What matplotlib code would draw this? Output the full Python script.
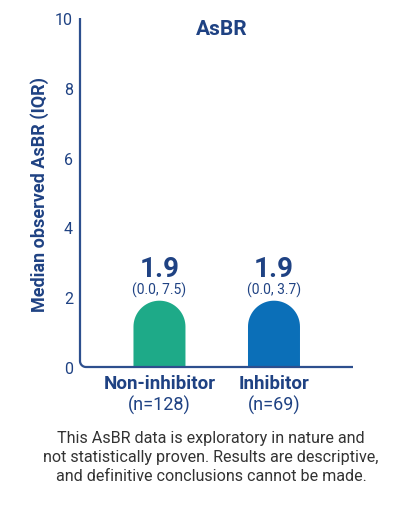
"""
Median observed AsBR bar chart with rounded bar tops, IQR labels and a footnote.
"""
import numpy as np
import matplotlib
matplotlib.use('Agg')
import matplotlib.pyplot as plt
from matplotlib.path import Path
from matplotlib.patches import PathPatch

plt.rcParams['font.family'] = ['Roboto', 'DejaVu Sans']

# --- data ---
categories = ['Non-inhibitor', 'Inhibitor']
n_values = [128, 69]
medians = [1.9, 1.9]
q1_values = [0.0, 0.0]
q3_values = [7.5, 3.7]
y_ticks = [0, 2, 4, 6, 8, 10]
title_text = 'AsBR'
y_label_text = 'Median observed AsBR (IQR)'
footnote_lines = ['This AsBR data is exploratory in nature and',
                  'not statistically proven. Results are descriptive,',
                  'and definitive conclusions cannot be made.']

# --- styles ---
NAVY = '#1f4283'
AXIS_COLOR = '#2d4f8e'
BAR_COLORS = ['#1eaa88', '#0b6fb8']
FOOT_COLOR = '#333333'
BAR_WIDTH = 0.454

W, H = 411, 506
fig = plt.figure(figsize=(W / 100, H / 100), dpi=100)
ax = fig.add_axes([80 / W, 1 - 368 / H, 273 / W, 349 / H])
ax.set_xlim(-0.694, 1.690)
ax.set_ylim(0, 10)
for side in ['top', 'right', 'left', 'bottom']:
    ax.spines[side].set_visible(False)
ax.set_xticks([])
ax.set_yticks(y_ticks)
ax.set_yticklabels([str(t) for t in y_ticks])
ax.tick_params(axis='y', length=0, pad=5, labelsize=11.5, labelcolor=NAVY)

# pixel scale of each data unit, used to keep bar caps circular
px_per_x = 273 / (1.690 + 0.694)
px_per_y = 349 / 10


def rounded_bar(x_center, height, width, color):
    rx = width / 2
    ry = rx * px_per_x / px_per_y
    theta = np.linspace(0, np.pi, 40)
    cap_x = x_center + rx * np.cos(theta)
    cap_y = height - ry + ry * np.sin(theta)
    xs = np.concatenate([[x_center + rx], cap_x, [x_center - rx]])
    ys = np.concatenate([[0], cap_y, [0]])
    verts = np.column_stack([xs, ys])
    patch = PathPatch(Path(verts, closed=False), facecolor=color,
                      edgecolor='none', zorder=2)
    ax.add_patch(patch)


x_positions = list(range(len(categories)))
for i, x in enumerate(x_positions):
    rounded_bar(x, medians[i], BAR_WIDTH, BAR_COLORS[i])
    ax.annotate(f'{medians[i]:.1f}', xy=(x, medians[i]), xytext=(0, 32.5),
                textcoords='offset pixels', ha='center', va='center',
                fontsize=20, fontweight='bold', color=NAVY)
    ax.annotate(f'({q1_values[i]:.1f}, {q3_values[i]:.1f})', xy=(x, medians[i]),
                xytext=(0, 11.5), textcoords='offset pixels', ha='center',
                va='center', fontsize=10, color=NAVY)
    ax.annotate(categories[i], xy=(x, 0), xytext=(0, -16),
                textcoords='offset pixels', ha='center', va='center',
                fontsize=13.5, fontweight='bold', color=NAVY, annotation_clip=False)
    ax.annotate(f'(n={n_values[i]})', xy=(x, 0), xytext=(0, -37),
                textcoords='offset pixels', ha='center', va='center',
                fontsize=13, color=NAVY, annotation_clip=False)

# L-shaped axis line with a rounded corner (axes fraction coords)
r_x = 6 / 273
r_y = 6 / 349
corner = np.linspace(np.pi, 1.5 * np.pi, 12)
frame_x = np.concatenate([[0], r_x + r_x * np.cos(corner), [1]])
frame_y = np.concatenate([[1], r_y + r_y * np.sin(corner), [0]])
ax.plot(frame_x, frame_y, transform=ax.transAxes, color=AXIS_COLOR,
        linewidth=1.6, clip_on=False, zorder=3, solid_capstyle='butt')

# title and axis label
ax.text((221.7 - 80) / 273, 1 - (29.5 - 19) / 349, title_text,
        transform=ax.transAxes, ha='center', va='center',
        fontsize=15, fontweight='bold', color=NAVY)
fig.text(40 / W, 1 - 194.5 / H, y_label_text, rotation=90, ha='center',
         va='center', fontsize=13, fontweight='bold', color=NAVY)

# footnote
for k, line in enumerate(footnote_lines):
    fig.text(211 / W, 1 - (439 + 19 * k) / H, line, ha='center', va='center',
             fontsize=11.6, color=FOOT_COLOR)

plt.savefig('out.png', dpi=100)
plt.close()
